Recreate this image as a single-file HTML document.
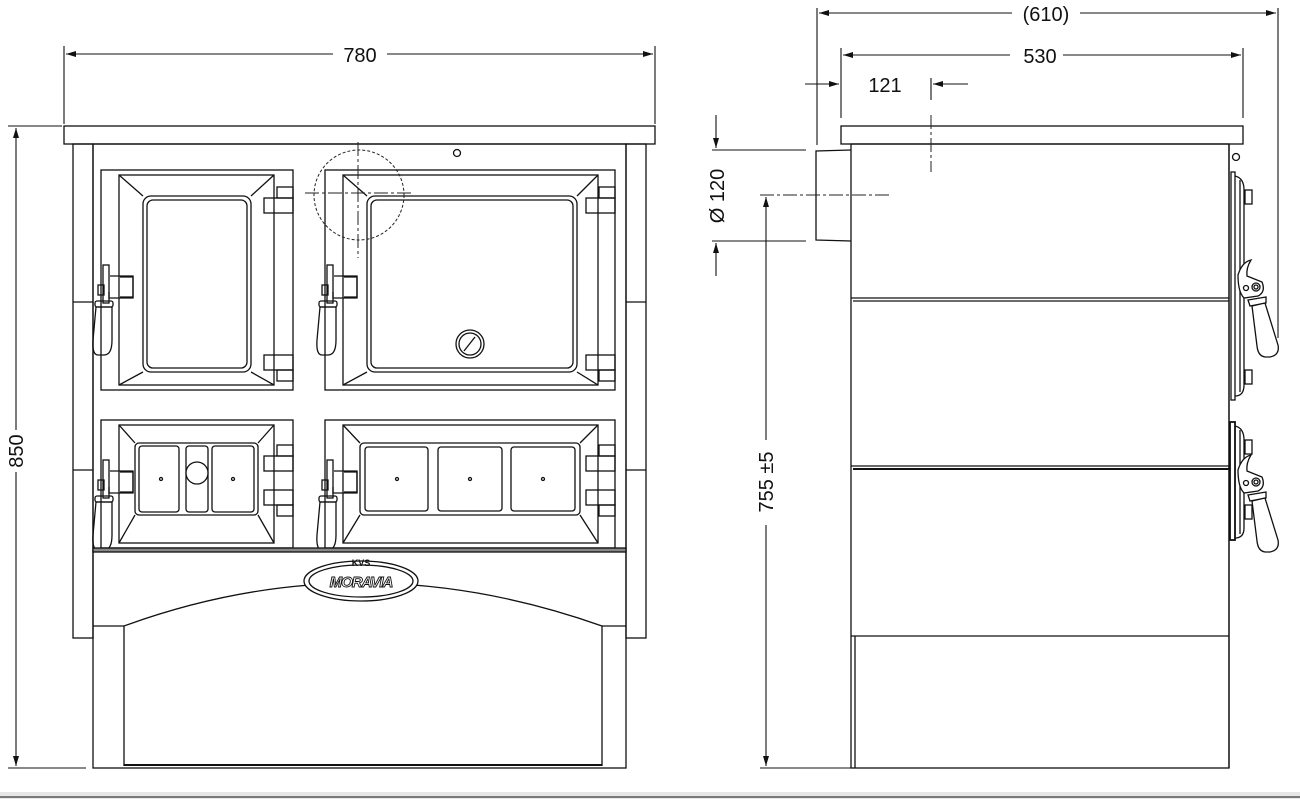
<!DOCTYPE html>
<html><head><meta charset="utf-8"><style>
html,body{margin:0;padding:0;background:#fff;}
svg{display:block;}
text{font-family:"Liberation Sans",sans-serif;font-size:20px;fill:#111;}
</style></head><body>
<svg width="1300" height="799" viewBox="0 0 1300 799" xmlns="http://www.w3.org/2000/svg">
<defs>
<marker id="ar" viewBox="0 0 10 6" refX="10" refY="3" markerWidth="14" markerHeight="6" markerUnits="userSpaceOnUse" orient="auto"><path d="M0,0L10,3L0,6z" fill="#111"/></marker>
</defs>
<rect width="1300" height="799" fill="#fff"/>
<rect x="0" y="792" width="1300" height="7" fill="#e6e6e6"/>
<line x1="0" y1="797" x2="1300" y2="797" stroke="#555" stroke-width="1.5"/>
<g fill="none" stroke="#111" stroke-width="1.3">
<!-- ===== FRONT VIEW ===== -->
<rect x="64" y="126" width="591" height="18"/>
<rect x="73" y="144" width="20" height="494"/>
<line x1="73" y1="302" x2="93" y2="302"/><line x1="73" y1="470" x2="93" y2="470"/>
<rect x="626" y="144" width="20" height="494"/>
<line x1="626" y1="302" x2="646" y2="302"/><line x1="626" y1="470" x2="646" y2="470"/>
<rect x="93" y="144" width="533" height="624"/>
<circle cx="457" cy="153" r="3.5"/>
<!-- upper left door -->
<rect x="101" y="170" width="192" height="220"/>
<rect x="119" y="175" width="155" height="210"/>
<rect x="143" y="196" width="108" height="176" rx="8"/>
<rect x="147" y="200" width="100" height="168" rx="6"/>
<path d="M119,175L143,196M274,175L251,196M119,385L143,372M274,385L251,372"/>
<rect x="264" y="198" width="29" height="15"/><rect x="277" y="187" width="16" height="11"/>
<rect x="264" y="355" width="29" height="15"/><rect x="277" y="370" width="16" height="11"/>
<!-- upper right door -->
<rect x="325" y="170" width="290" height="220"/>
<rect x="343" y="175" width="255" height="210"/>
<rect x="367" y="196" width="210" height="176" rx="8"/>
<rect x="371" y="200" width="202" height="168" rx="6"/>
<path d="M343,175L367,196M598,175L577,196M343,385L367,372M598,385L577,372"/>
<rect x="586" y="198" width="29" height="15"/><rect x="599" y="187" width="16" height="11"/>
<rect x="586" y="355" width="29" height="15"/><rect x="599" y="370" width="16" height="11"/>
<circle cx="470" cy="344" r="14"/><circle cx="470" cy="344" r="11"/>
<path d="M464,351L475,337"/>
<!-- lower left door -->
<rect x="101" y="420" width="192" height="128"/>
<rect x="119" y="425" width="155" height="118"/>
<rect x="135" y="443" width="123" height="72" rx="4"/>
<path d="M119,425L135,443M274,425L258,443M119,543L135,515M274,543L258,515"/>
<rect x="139" y="446" width="40" height="66" rx="3"/>
<rect x="186" y="446" width="22" height="66" rx="3"/>
<rect x="212" y="446" width="42" height="66" rx="3"/>
<circle cx="197" cy="473" r="11" fill="#fff"/>
<circle cx="161" cy="479" r="1.5"/><circle cx="233" cy="479" r="1.5"/>
<rect x="264" y="456" width="29" height="15"/><rect x="277" y="445" width="16" height="11"/>
<rect x="264" y="490" width="29" height="15"/><rect x="277" y="505" width="16" height="11"/>
<!-- lower right door -->
<rect x="325" y="420" width="290" height="128"/>
<rect x="343" y="425" width="255" height="118"/>
<rect x="360" y="443" width="220" height="72" rx="4"/>
<path d="M343,425L360,443M598,425L580,443M343,543L360,515M598,543L580,515"/>
<rect x="365" y="447" width="63" height="64" rx="3"/>
<rect x="438" y="447" width="64" height="64" rx="3"/>
<rect x="511" y="447" width="64" height="64" rx="3"/>
<circle cx="397" cy="479" r="1.5"/><circle cx="470" cy="479" r="1.5"/><circle cx="543" cy="479" r="1.5"/>
<rect x="586" y="456" width="29" height="15"/><rect x="599" y="445" width="16" height="11"/>
<rect x="586" y="490" width="29" height="15"/><rect x="599" y="505" width="16" height="11"/>
<!-- handles front -->
<g id="h1">
<rect x="103" y="265" width="6" height="38"/><rect x="98" y="285" width="6" height="10"/>
<path d="M109,292L109,298L133,298L133,276L110,276"/><path d="M120,277L133,277L133,297L120,297"/>
<path d="M96,307L112,307L112,340Q112,355 104,355L98,355Q92,355 93,340Z"/>
<rect x="95" y="301" width="18" height="6" rx="2"/>
</g>
<use href="#h1" x="224"/>
<use href="#h1" y="195"/>
<use href="#h1" x="224" y="195"/>
<!-- bottom section -->
<rect x="93" y="548" width="533" height="4" fill="#888"/>
<path d="M124,766L124,626Q360,540 602,626L602,766"/>
<line x1="93" y1="626" x2="124" y2="626"/><line x1="602" y1="626" x2="626" y2="626"/>
<line x1="124" y1="765" x2="602" y2="765" stroke-width="2"/>
<ellipse cx="361" cy="581" rx="57" ry="20" fill="#fff"/>
<ellipse cx="361" cy="581" rx="52" ry="16"/>
</g>
<text x="361" y="587" text-anchor="middle" style="font-size:15px;font-weight:bold;font-style:italic;fill:#fff;stroke:#111;stroke-width:0.9;letter-spacing:-1px">MORAVIA</text>
<text x="361" y="566" text-anchor="middle" style="font-size:9px;font-weight:bold;">KVS</text>
<!-- centerline + dashed circle -->
<g fill="none" stroke="#222" stroke-width="1">
<circle cx="359" cy="195" r="45" stroke-dasharray="3,2"/>
<line x1="358" y1="142" x2="358" y2="258" stroke-dasharray="14,3,3,3"/>
<line x1="305" y1="193" x2="414" y2="193" stroke-dasharray="14,3,3,3"/>
</g>
<!-- front dims -->
<g stroke="#111" stroke-width="1.1" fill="none">
<line x1="64" y1="46" x2="64" y2="124"/><line x1="655" y1="46" x2="655" y2="124"/>
<line x1="333" y1="54" x2="66" y2="54" marker-end="url(#ar)"/>
<line x1="387" y1="54" x2="653" y2="54" marker-end="url(#ar)"/>
<line x1="8" y1="126" x2="62" y2="126"/><line x1="8" y1="768" x2="86" y2="768"/>
<line x1="16" y1="430" x2="16" y2="128" marker-end="url(#ar)"/>
<line x1="16" y1="472" x2="16" y2="766" marker-end="url(#ar)"/>
</g>
<text x="360" y="62" text-anchor="middle">780</text>
<text transform="translate(23,451) rotate(-90)" text-anchor="middle">850</text>
<!-- ===== SIDE VIEW ===== -->
<g fill="none" stroke="#111" stroke-width="1.3">
<rect x="841" y="126" width="402" height="18"/>
<rect x="851" y="144" width="378" height="624"/>
<line x1="851" y1="298" x2="1229" y2="298"/><line x1="853" y1="301" x2="1229" y2="301"/>
<line x1="851" y1="466" x2="1229" y2="466"/><line x1="853" y1="469" x2="1229" y2="469" stroke-width="2"/>
<line x1="851" y1="636" x2="1229" y2="636"/>
<line x1="855" y1="636" x2="855" y2="768"/>
<line x1="1229" y1="144" x2="1229" y2="768"/>
<path d="M851,150L816,151L816,240L851,241"/>
<circle cx="1236" cy="157" r="3.5"/>
<!-- side doors -->
<rect x="1231" y="172" width="4" height="228"/>
<path d="M1235,176Q1244,178 1244,190L1244,385Q1244,396 1235,396"/>
<path d="M1240,180L1240,392"/>
<rect x="1245" y="190" width="7" height="14"/><rect x="1245" y="370" width="7" height="14"/>
<rect x="1230" y="422" width="5" height="118" stroke-width="1.8"/>
<path d="M1235,426Q1244,428 1244,440L1244,528Q1244,538 1235,538"/>
<path d="M1240,430L1240,534"/>
<rect x="1245" y="440" width="7" height="14"/><rect x="1245" y="505" width="7" height="14"/>
<g id="sh">
<path d="M1238,275Q1242,262 1251,260Q1246,268 1247,276L1262,282Q1266,292 1258,296L1244,298Q1238,292 1238,275Z" fill="#fff"/>
<circle cx="1256" cy="287" r="4"/><circle cx="1256" cy="287" r="2"/><circle cx="1246" cy="288" r="2.5"/>
<path d="M1248,300L1266,297L1266,303L1250,306Z" fill="#fff"/>
<path d="M1252,306L1265,303L1278,345Q1280,355 1270,357L1265,357Q1258,356 1257,346Z" fill="#fff"/>
</g>
<use href="#sh" y="195"/>
</g>
<g stroke="#222" stroke-width="1" fill="none">
<line x1="931" y1="115" x2="931" y2="172" stroke-dasharray="14,3,3,3"/>
<line x1="760" y1="195" x2="890" y2="195" stroke-dasharray="14,3,3,3"/>
</g>
<g stroke="#111" stroke-width="1.1" fill="none">
<line x1="817" y1="8" x2="817" y2="145"/><line x1="1278" y1="8" x2="1278" y2="338"/>
<line x1="1012" y1="13" x2="819" y2="13" marker-end="url(#ar)"/>
<line x1="1080" y1="13" x2="1276" y2="13" marker-end="url(#ar)"/>
<line x1="841" y1="48" x2="841" y2="118"/><line x1="1243" y1="48" x2="1243" y2="118"/>
<line x1="1010" y1="55" x2="843" y2="55" marker-end="url(#ar)"/>
<line x1="1063" y1="55" x2="1241" y2="55" marker-end="url(#ar)"/>
<line x1="805" y1="84" x2="839" y2="84" marker-end="url(#ar)"/>
<line x1="968" y1="84" x2="933" y2="84" marker-end="url(#ar)"/>
<line x1="931" y1="78" x2="931" y2="100"/>
<line x1="712" y1="150" x2="806" y2="150"/><line x1="712" y1="241" x2="806" y2="241"/>
<line x1="716" y1="115" x2="716" y2="148" marker-end="url(#ar)"/>
<line x1="716" y1="276" x2="716" y2="243" marker-end="url(#ar)"/>
<line x1="766" y1="440" x2="766" y2="197" marker-end="url(#ar)"/>
<line x1="766" y1="525" x2="766" y2="766" marker-end="url(#ar)"/>
<line x1="760" y1="768" x2="852" y2="768"/>
</g>
<text x="1046" y="21" text-anchor="middle">(610)</text>
<text x="1040" y="63" text-anchor="middle">530</text>
<text x="885" y="92" text-anchor="middle">121</text>
<text transform="translate(724,196) rotate(-90)" text-anchor="middle">Ø 120</text>
<text transform="translate(773,482) rotate(-90)" text-anchor="middle">755 ±5</text>
</svg>
</body></html>
